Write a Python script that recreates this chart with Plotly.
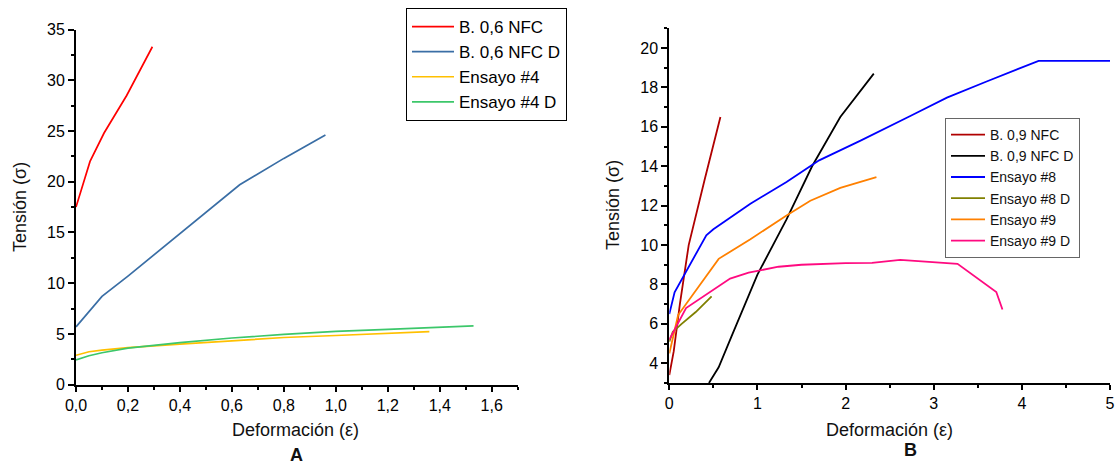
import plotly.graph_objects as go

# ---- Panel A data: deformation (strain) vs tension (stress) ----
a_nfc_x = [0.0, 0.054, 0.108, 0.195, 0.294]
a_nfc_y = [17.5, 22.0, 24.8, 28.5, 33.3]

a_nfcd_x = [0.0, 0.1, 0.2, 0.4, 0.63, 0.8, 0.96]
a_nfcd_y = [5.7, 8.7, 10.7, 14.9, 19.7, 22.3, 24.6]

a_e4_x = [0.0, 0.05, 0.1, 0.2, 0.4, 0.6, 0.8, 1.0, 1.2, 1.36]
a_e4_y = [2.9, 3.25, 3.4, 3.65, 4.0, 4.35, 4.65, 4.85, 5.05, 5.23]

a_e4d_x = [0.0, 0.05, 0.1, 0.2, 0.4, 0.6, 0.8, 1.0, 1.2, 1.4, 1.53]
a_e4d_y = [2.45, 2.85, 3.15, 3.6, 4.15, 4.6, 4.95, 5.25, 5.45, 5.65, 5.8]

# ---- Panel B data ----
b_nfc_x = [0.0, 0.05, 0.12, 0.22, 0.4, 0.58]
b_nfc_y = [3.4, 4.6, 7.0, 10.0, 13.3, 16.5]

b_nfcd_x = [0.45, 0.56, 0.7, 1.0, 1.33, 1.62, 1.94, 2.32]
b_nfcd_y = [3.0, 3.8, 5.3, 8.5, 11.3, 14.0, 16.5, 18.7]

b_e8_x = [0.0, 0.06, 0.42, 0.5, 0.92, 1.33, 1.7, 2.17, 2.74, 3.15, 3.6, 4.19, 5.0]
b_e8_y = [6.5, 7.6, 10.5, 10.8, 12.1, 13.2, 14.3, 15.3, 16.56, 17.48, 18.3, 19.35, 19.35]

b_e8d_x = [0.0, 0.04, 0.14, 0.3, 0.48]
b_e8d_y = [5.1, 5.6, 6.0, 6.6, 7.4]

b_e9_x = [0.0, 0.1, 0.56, 0.92, 1.33, 1.6, 1.94, 2.35]
b_e9_y = [4.5, 6.45, 9.3, 10.3, 11.5, 12.25, 12.9, 13.45]

b_e9d_x = [0.0, 0.19, 0.69, 0.9, 1.24, 1.5, 2.0, 2.3, 2.62, 2.9, 3.27, 3.71, 3.78]
b_e9d_y = [5.2, 6.8, 8.3, 8.6, 8.9, 9.0, 9.08, 9.1, 9.25, 9.18, 9.05, 7.62, 6.73]

a_names = ["B. 0,6 NFC", "B. 0,6 NFC D", "Ensayo #4", "Ensayo #4 D"]
b_names = ["B. 0,9 NFC", "B. 0,9 NFC D", "Ensayo #8", "Ensayo #8 D", "Ensayo #9", "Ensayo #9 D"]

a_colors = ["#ff0000", "#3a6ea5", "#ffc000", "#3cc76a"]
b_colors = ["#b00000", "#000000", "#0000ff", "#808000", "#ff8000", "#ff0a80"]

W, H = 1116, 464
FONT = "Liberation Sans, Arial, sans-serif"


def px(x):
    return x / W


def py(y):
    return 1 - y / H


fig = go.Figure()

a_series = [(a_nfc_x, a_nfc_y), (a_nfcd_x, a_nfcd_y), (a_e4_x, a_e4_y), (a_e4d_x, a_e4d_y)]
for (xs, ys), name, col in zip(a_series, a_names, a_colors):
    fig.add_trace(go.Scatter(x=xs, y=ys, name=name, mode="lines",
                             line=dict(color=col, width=1.7),
                             xaxis="x", yaxis="y", legend="legend"))

b_series = [(b_nfc_x, b_nfc_y), (b_nfcd_x, b_nfcd_y), (b_e8_x, b_e8_y),
            (b_e8d_x, b_e8d_y), (b_e9_x, b_e9_y), (b_e9d_x, b_e9d_y)]
for (xs, ys), name, col in zip(b_series, b_names, b_colors):
    fig.add_trace(go.Scatter(x=xs, y=ys, name=name, mode="lines",
                             line=dict(color=col, width=1.8),
                             xaxis="x2", yaxis="y2", legend="legend2"))

axis_common = dict(
    showgrid=False, zeroline=False, showline=True, linecolor="#000", linewidth=2,
    ticks="outside", tickcolor="#000", tickwidth=1.5, mirror=False, automargin=False,
    tickfont=dict(family=FONT, size=16, color="#000"),
)
minor_common = dict(ticklen=3, ticks="outside", tickcolor="#000", tickwidth=1.5)

fig.update_layout(
    width=W, height=H,
    margin=dict(l=0, r=0, t=0, b=0),
    paper_bgcolor="white", plot_bgcolor="white",
    separators=",.",
    font=dict(family=FONT, color="#000"),
    xaxis=dict(domain=[px(76), px(517.7)], range=[0, 1.7], anchor="y",
               tickmode="linear", tick0=0, dtick=0.2, tickformat=".1f", ticklen=5,
               minor=dict(dtick=0.1, **minor_common), **axis_common),
    yaxis=dict(domain=[py(384.7), py(29.5)], range=[0, 35], anchor="x",
               tickmode="linear", tick0=0, dtick=5, ticklen=6,
               minor=dict(dtick=2.5, **minor_common), **axis_common),
    xaxis2=dict(domain=[px(669.3), px(1110)], range=[0, 5], anchor="y2",
                tickmode="linear", tick0=0, dtick=1, ticklen=5,
                minor=dict(dtick=0.5, **minor_common), **axis_common),
    yaxis2=dict(domain=[py(383), py(28.3)], range=[3, 21], anchor="x2",
                tickmode="linear", tick0=4, dtick=2, ticklen=6,
                minor=dict(tick0=3, dtick=2, **minor_common), **axis_common),
    legend=dict(x=px(406), y=py(8), xanchor="left", yanchor="top",
                bgcolor="white", bordercolor="#000", borderwidth=1,
                font=dict(family=FONT, size=17, color="#000"),
                itemwidth=42, tracegroupgap=0),
    legend2=dict(x=px(945), y=py(118), xanchor="left", yanchor="top",
                 bgcolor="white", bordercolor="#666", borderwidth=1,
                 font=dict(family=FONT, size=14, color="#111"),
                 itemwidth=34, tracegroupgap=0),
    showlegend=True,
)

# axis titles and panel letters
ann = [
    dict(text="Tensión (σ)", x=px(20), y=py(207), textangle=-90),
    dict(text="Deformación (ε)", x=px(295), y=py(430), textangle=0),
    dict(text="<b>A</b>", x=px(296), y=py(455), textangle=0),
    dict(text="Tensión (σ)", x=px(613), y=py(205), textangle=-90),
    dict(text="Deformación (ε)", x=px(889.5), y=py(430), textangle=0),
    dict(text="<b>B</b>", x=px(910), y=py(450), textangle=0),
]
for a in ann:
    fig.add_annotation(text=a["text"], x=a["x"], y=a["y"], xref="paper", yref="paper",
                       xanchor="center", yanchor="middle", showarrow=False,
                       textangle=a["textangle"],
                       font=dict(family=FONT, size=18, color="#111"))

fig.write_html("out.html")
